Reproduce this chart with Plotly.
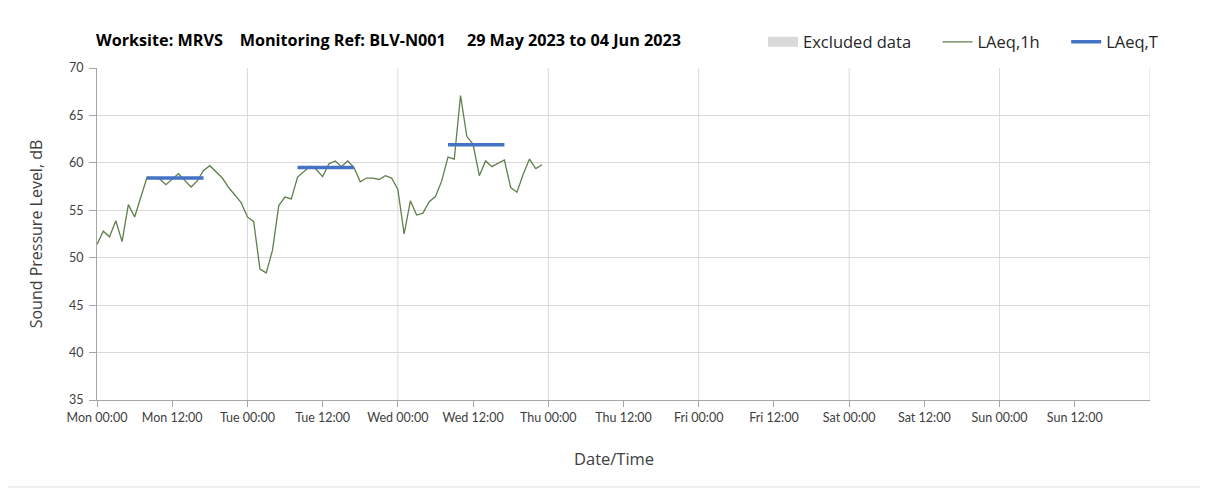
import datetime as dt
import plotly.graph_objects as go

# ---- data ----
start = dt.datetime(2023, 5, 29, 0, 0)
laeq_1h = [51.4, 52.8, 52.2, 53.9, 51.7, 55.6, 54.3, 56.3, 58.5, 58.4, 58.3, 57.7,
           58.3, 58.85, 58.15, 57.45, 58.1, 59.2, 59.7, 59.1, 58.4, 57.4, 56.6, 55.8,
           54.3, 53.8, 48.8, 48.4, 50.8, 55.5, 56.4, 56.2, 58.5, 59.05, 59.65, 59.3,
           58.55, 59.9, 60.2, 59.6, 60.2, 59.5, 58.0, 58.4, 58.4, 58.25, 58.65, 58.4,
           57.2, 52.5, 56.0, 54.5, 54.7, 55.9, 56.45, 58.1, 60.6, 60.4, 67.1, 62.8,
           61.95, 58.65, 60.2, 59.6, 59.95, 60.3, 57.4, 56.9, 58.8, 60.4, 59.4, 59.8]
times_1h = [start + dt.timedelta(hours=i) for i in range(len(laeq_1h))]

laeq_t_start_hours = [8, 32, 56]
laeq_t_end_hours = [17, 41, 65]
laeq_t_values = [58.4, 59.5, 61.9]

day_names = ["Mon", "Tue", "Wed", "Thu", "Fri", "Sat", "Sun"]
tick_labels = []
for d in day_names:
    tick_labels += [f"{d} 00:00", f"{d} 12:00"]
tick_times = [start + dt.timedelta(hours=12 * i) for i in range(len(tick_labels))]
day_bounds = [start + dt.timedelta(days=i) for i in range(1, 8)]
x_end = start + dt.timedelta(days=7)

# ---- figure ----
pad = "&nbsp;" * 5
fig = go.Figure()

fig.add_trace(go.Scatter(x=[None], y=[None], mode="lines", name="Excluded data" + pad,
                         line=dict(color="#d9d9d9", width=10)))

fig.add_trace(go.Scatter(x=times_1h, y=laeq_1h, mode="lines", name="LAeq,1h" + pad,
                         line=dict(color="#5f7f4b", width=1.3)))

tx, ty = [], []
for s, e, v in zip(laeq_t_start_hours, laeq_t_end_hours, laeq_t_values):
    tx += [start + dt.timedelta(hours=s), start + dt.timedelta(hours=e), None]
    ty += [v, v, None]
fig.add_trace(go.Scatter(x=tx, y=ty, mode="lines", name="LAeq,T",
                         line=dict(color="#4472c4", width=3.5)))

for b in day_bounds:
    fig.add_shape(type="line", xref="x", yref="paper", x0=b, x1=b, y0=0, y1=1,
                  line=dict(color="#d9d9d9", width=1), layer="below")

fig.add_shape(type="rect", xref="paper", yref="paper",
              x0=-0.0874, x1=1.050, y0=-0.262, y1=1.19,
              line=dict(color="#e0e0e0", width=1), layer="below")

lato = "Lato, 'Open Sans', sans-serif"
osans = "'Open Sans', Lato, sans-serif"

fig.add_annotation(text="Date/Time", xref="paper", yref="paper",
                   x=(614 - 97) / 1053, y=(400 - 458) / 332, xanchor="center", yanchor="middle",
                   showarrow=False, font=dict(size=16.5, color="#404040", family=osans))

fig.update_layout(
    width=1208, height=492,
    margin=dict(l=89, r=66, t=60, b=100),
    paper_bgcolor="white", plot_bgcolor="white",
    font=dict(family=lato, color="#404040", size=12),
    title=dict(text="<b>Worksite: MRVS" + "&nbsp;" * 4 + "Monitoring Ref: BLV-N001" + "&nbsp;" * 5 +
                    "29 May 2023 to 04 Jun 2023</b>",
               x=88 / 1208, xanchor="left", y=1 - 32 / 492, yanchor="middle",
               font=dict(size=16.2, color="#000000", family=osans)),
    legend=dict(orientation="h", x=0.6325, xanchor="left", y=1.078, yanchor="middle",
                font=dict(size=16.5, color="#262626", family=osans),
                itemwidth=30, bgcolor="rgba(0,0,0,0)"),
    showlegend=True,
)

fig.update_xaxes(type="date", range=[start, x_end],
                 tickmode="array", tickvals=tick_times, ticktext=tick_labels,
                 showgrid=False, showline=True, linecolor="#a6a6a6", linewidth=1,
                 ticks="outside", ticklen=6, tickcolor="#a6a6a6",
                 tickfont=dict(size=12.5, color="#404040"),
                 zeroline=False)
fig.update_yaxes(range=[35, 70], dtick=5, tick0=35,
                 showgrid=True, gridcolor="#d9d9d9", gridwidth=1,
                 showline=True, linecolor="#a6a6a6", linewidth=1,
                 ticks="outside", ticklen=7, tickcolor="#a6a6a6",
                 ticklabelstandoff=3,
                 tickfont=dict(size=12.5, color="#404040"),
                 title=dict(text="Sound Pressure Level, dB", font=dict(size=16, color="#404040", family=osans), standoff=22),
                 zeroline=False)

fig.write_html("out.html")
